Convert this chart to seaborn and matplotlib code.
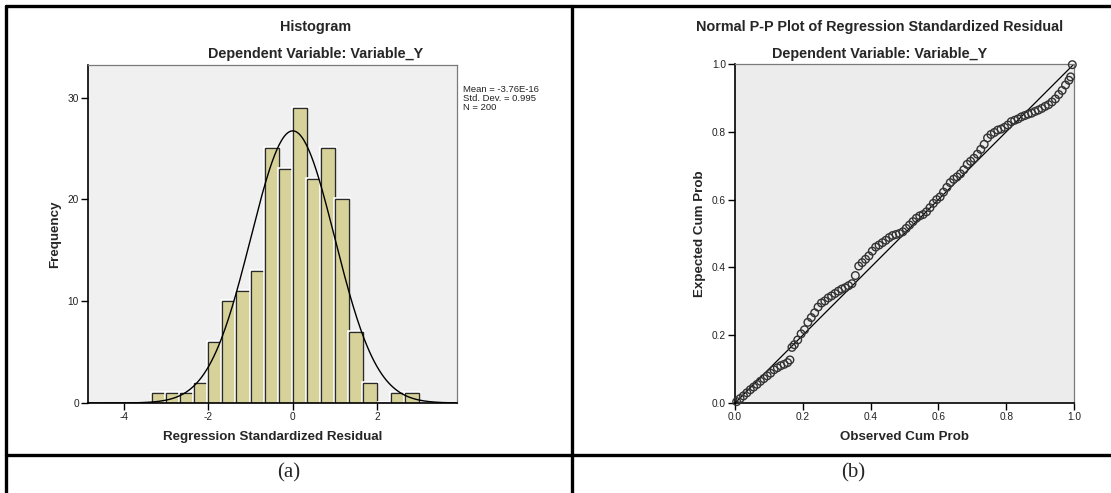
import numpy as np
import pandas as pd
import seaborn as sns
import matplotlib.pyplot as plt
import matplotlib.patheffects as pe
from matplotlib.lines import Line2D

# histogram of standardized residuals (bin width 1/3)
bin_edges = [-10/3, -3, -8/3, -7/3, -2, -5/3, -4/3, -1, -2/3, -1/3, 0,
             1/3, 2/3, 1, 4/3, 5/3, 2, 7/3, 8/3, 3]
bin_counts = [1, 1, 1, 2, 6, 10, 11, 13, 25, 23, 29, 22, 25, 20, 7, 2, 0, 1, 1]
res_mean = -3.76e-16
res_sd = 0.995
res_n = 200

# normal P-P plot points
obs_cum_prob = [0.005, 0.015, 0.025, 0.035, 0.045, 0.055, 0.065, 0.075, 0.085, 0.095,
                0.105, 0.115, 0.125, 0.135, 0.145, 0.155, 0.162, 0.168, 0.175, 0.185,
                0.195, 0.205, 0.215, 0.225, 0.235, 0.245, 0.255, 0.265, 0.275, 0.285,
                0.295, 0.305, 0.315, 0.325, 0.335, 0.345, 0.355, 0.365, 0.375, 0.385,
                0.395, 0.405, 0.415, 0.425, 0.435, 0.445, 0.455, 0.465, 0.475, 0.485,
                0.495, 0.505, 0.515, 0.525, 0.535, 0.545, 0.555, 0.565, 0.575, 0.585,
                0.595, 0.605, 0.615, 0.625, 0.635, 0.645, 0.655, 0.665, 0.675, 0.685,
                0.695, 0.705, 0.715, 0.725, 0.735, 0.745, 0.755, 0.765, 0.775, 0.785,
                0.795, 0.805, 0.815, 0.825, 0.835, 0.845, 0.855, 0.865, 0.875, 0.885,
                0.895, 0.905, 0.915, 0.925, 0.935, 0.945, 0.955, 0.965, 0.975, 0.985,
                0.990, 0.995]
exp_cum_prob = [0.004, 0.013, 0.021, 0.030, 0.039, 0.047, 0.055, 0.064, 0.072, 0.080,
                0.088, 0.098, 0.104, 0.110, 0.114, 0.119, 0.127, 0.164, 0.172, 0.186,
                0.204, 0.216, 0.238, 0.252, 0.266, 0.283, 0.295, 0.301, 0.310, 0.316,
                0.323, 0.330, 0.336, 0.340, 0.346, 0.352, 0.376, 0.404, 0.414, 0.424,
                0.434, 0.448, 0.460, 0.466, 0.473, 0.480, 0.488, 0.494, 0.497, 0.500,
                0.505, 0.515, 0.525, 0.535, 0.545, 0.552, 0.556, 0.564, 0.576, 0.589,
                0.600, 0.608, 0.622, 0.636, 0.650, 0.660, 0.667, 0.676, 0.688, 0.704,
                0.713, 0.722, 0.734, 0.748, 0.763, 0.782, 0.792, 0.798, 0.805, 0.808,
                0.813, 0.820, 0.830, 0.834, 0.838, 0.844, 0.848, 0.852, 0.855, 0.860,
                0.864, 0.869, 0.875, 0.880, 0.888, 0.897, 0.910, 0.922, 0.938, 0.952,
                0.962, 0.998]

sns.set_style("white")
plt.rcParams['font.family'] = ['Liberation Sans', 'DejaVu Sans']

W, H = 1111, 493
fig = plt.figure(figsize=(W / 100, H / 100), dpi=100)


def fx(x):
    return x / W


def fy(y):
    return 1 - y / H


def box(left, top, right, bottom):
    return [fx(left), fy(bottom), fx(right) - fx(left), fy(top) - fy(bottom)]


# table frame
for (x0, y0, x1, y1) in [(5.5, 5.5, 1111, 5.5), (5.5, 5.5, 5.5, 493),
                         (5.5, 455, 1111, 455), (572, 5.5, 572, 493)]:
    fig.add_artist(Line2D([fx(x0), fx(x1)], [fy(y0), fy(y1)], color='black', lw=2.4))

tick_kw = dict(labelsize=7.3, length=5, width=1, color='black', labelcolor='#222222', pad=1.5,
               bottom=True, left=True)

# ---- (a) histogram ----
ax1 = fig.add_axes(box(88, 65, 457, 403))
ax1.set_facecolor('#f0f0f0')
centers = [(bin_edges[i] + bin_edges[i + 1]) / 2 for i in range(len(bin_counts))]
hist_df = pd.DataFrame({'resid': centers, 'count': bin_counts})
sns.histplot(data=hist_df, x='resid', weights='count', bins=bin_edges, ax=ax1,
             color='#d6d29a', alpha=1, edgecolor='#2a2a2a', linewidth=0.9)
for p in ax1.patches:
    p.set_path_effects([pe.withStroke(linewidth=2.6, foreground='white'), pe.Normal()])

xs = np.linspace(-4.85, 3.89, 300)
bw = 1 / 3
ys = res_n * bw * np.exp(-0.5 * ((xs - res_mean) / res_sd) ** 2) / (res_sd * np.sqrt(2 * np.pi))
sns.lineplot(x=xs, y=ys, ax=ax1, color='black', lw=1.0)

ax1.set_xlim(-4.85, 3.89)
ax1.set_ylim(0, 33.2)
ax1.set_xticks([-4, -2, 0, 2])
ax1.set_yticks([0, 10, 20, 30])
ax1.set_xticklabels(['-4', '-2', '0', '2'])
ax1.set_xlabel('')
ax1.set_ylabel('')
ax1.tick_params(axis='both', direction='out', **tick_kw)
for s in ['left', 'bottom']:
    ax1.spines[s].set_color('black')
    ax1.spines[s].set_linewidth(1.2)
for s in ['top', 'right']:
    ax1.spines[s].set_color('#7a7a7a')
    ax1.spines[s].set_linewidth(0.9)

fig.text(fx(316), fy(27), 'Histogram', ha='center', va='center', fontsize=10.4, fontweight='bold')
fig.text(fx(316), fy(54), 'Dependent Variable: Variable_Y', ha='center', va='center',
         fontsize=10.4, fontweight='bold')
fig.text(fx(272.5), fy(437), 'Regression Standardized Residual', ha='center', va='center',
         fontsize=9.6, fontweight='bold')
fig.text(fx(55), fy(234), 'Frequency', ha='center', va='center', rotation=90,
         fontsize=9.6, fontweight='bold')
fig.text(fx(463), fy(85), 'Mean = -3.76E-16\nStd. Dev. = 0.995\nN = 200', ha='left', va='top',
         fontsize=6.8, color='#222222', linespacing=1.0)

# ---- (b) P-P plot ----
ax2 = fig.add_axes(box(735, 64, 1074, 403))
ax2.set_facecolor('#ececec')
ax2.plot([0, 1], [0, 1], color='black', lw=0.9, zorder=2)
pp_df = pd.DataFrame({'observed': obs_cum_prob, 'expected': exp_cum_prob})
sns.scatterplot(data=pp_df, x='observed', y='expected', ax=ax2, marker='o', s=30,
                facecolor='none', edgecolor='#333333', linewidth=1.0, zorder=3, clip_on=False)
ax2.set_xlim(0, 1)
ax2.set_ylim(0, 1)
ticks = [0.0, 0.2, 0.4, 0.6, 0.8, 1.0]
ax2.set_xticks(ticks)
ax2.set_yticks(ticks)
ax2.set_xticklabels([f'{t:.1f}' for t in ticks])
ax2.set_yticklabels([f'{t:.1f}' for t in ticks])
ax2.set_xlabel('')
ax2.set_ylabel('')
ax2.tick_params(axis='both', direction='out', **tick_kw)
for s in ['left', 'bottom']:
    ax2.spines[s].set_color('black')
    ax2.spines[s].set_linewidth(1.2)
for s in ['top', 'right']:
    ax2.spines[s].set_color('#7a7a7a')
    ax2.spines[s].set_linewidth(0.9)

fig.text(fx(880), fy(27), 'Normal P-P Plot of Regression Standardized Residual', ha='center',
         va='center', fontsize=10.4, fontweight='bold')
fig.text(fx(880), fy(54), 'Dependent Variable: Variable_Y', ha='center', va='center',
         fontsize=10.4, fontweight='bold')
fig.text(fx(904.5), fy(437), 'Observed Cum Prob', ha='center', va='center',
         fontsize=9.6, fontweight='bold')
fig.text(fx(700), fy(234), 'Expected Cum Prob', ha='center', va='center', rotation=90,
         fontsize=9.6, fontweight='bold')

# panel captions
fig.text(fx(289), fy(473), '(a)', ha='center', va='center', fontsize=15,
         family=['Liberation Serif', 'DejaVu Serif'])
fig.text(fx(853), fy(473), '(b)', ha='center', va='center', fontsize=15,
         family=['Liberation Serif', 'DejaVu Serif'])

fig.savefig('out.png', dpi=100)
